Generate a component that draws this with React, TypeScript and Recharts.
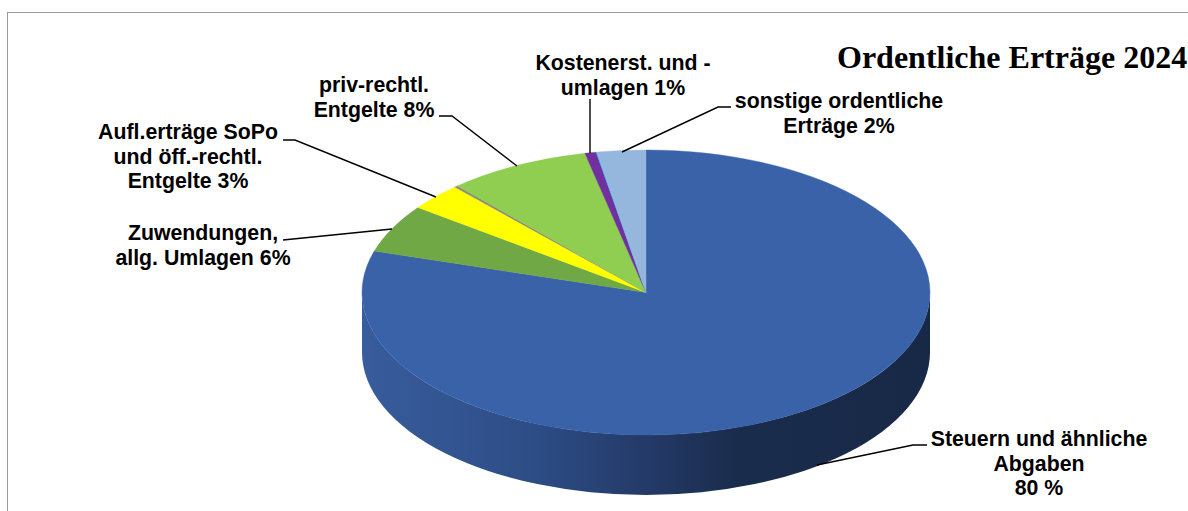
import React from 'react';
import { PieChart, Pie, Cell } from 'recharts';

const categories = [
  'Steuern und ähnliche Abgaben',
  'Zuwendungen, allg. Umlagen',
  'Aufl.erträge SoPo und öff.-rechtl. Entgelte',
  'Sonstige Transfererträge',
  'priv-rechtl. Entgelte',
  'Kostenerst. und -umlagen',
  'Finanzerträge',
  'sonstige ordentliche Erträge',
];
const shares = [79.7, 5.47, 3.08, 0.2, 8.1, 0.64, 0.06, 2.75];
const colors = ['#3A62A8', '#70A845', '#FFFF00', '#8C8C7A', '#8FCE50', '#7030A0', '#4FB8E8', '#95B7DE'];
const labelLines: string[][] = [
  ['Steuern und ähnliche', 'Abgaben', '80 %'],
  ['Zuwendungen,', 'allg. Umlagen 6%'],
  ['Aufl.erträge SoPo', 'und öff.-rechtl.', 'Entgelte 3%'],
  [],
  ['priv-rechtl.', 'Entgelte 8%'],
  ['Kostenerst. und -', 'umlagen 1%'],
  [],
  ['sonstige ordentliche', 'Erträge 2%'],
];

const data = categories.map((name, i) => ({ name, value: shares[i] }));

const CX = 646;
const CY = 292.5;
const RX = 284;
const TILT = 0.5018;
const DEPTH = 60;

// label block centre, first baseline and leader line for each slice
const labelLayout: { x: number; y: number; leader: string }[] = [
  { x: 1039, y: 446, leader: '817,465 913,445 927,445' },
  { x: 203, y: 240, leader: '392,229 293,239 283,240' },
  { x: 188, y: 139, leader: '436,197 295,140 283,140' },
  { x: 0, y: 0, leader: '' },
  { x: 374, y: 92, leader: '517,166 452,116 439,116' },
  { x: 623, y: 70, leader: '590,153 590,99' },
  { x: 0, y: 0, leader: '' },
  { x: 839, y: 108, leader: '622,152 718,107 731,107' },
];

const rad = (deg: number) => (deg * Math.PI) / 180;
const px = (deg: number, r: number) => CX + r * Math.cos(rad(deg));
const py = (deg: number, r: number) => CY - r * TILT * Math.sin(rad(deg));

// recharts gives the angles, they get projected onto the tilted disc here
const TiltedSlice = (props: any) => {
  const { startAngle, endAngle, outerRadius: r, fill } = props;
  const large = Math.abs(startAngle - endAngle) > 180 ? 1 : 0;
  const ry = r * TILT;
  const top = `M${CX},${CY} L${px(startAngle, r)},${py(startAngle, r)} A${r},${ry} 0 ${large} 1 ${px(endAngle, r)},${py(endAngle, r)} Z`;

  // front wall only where the slice covers the lower half
  const wallFrom = Math.min(startAngle, 0);
  const wallTo = Math.max(endAngle, -180);
  const wall =
    wallFrom > wallTo
      ? `M${px(wallFrom, r)},${py(wallFrom, r)} A${r},${ry} 0 0 1 ${px(wallTo, r)},${py(wallTo, r)} L${px(wallTo, r)},${py(wallTo, r) + DEPTH} A${r},${ry} 0 0 0 ${px(wallFrom, r)},${py(wallFrom, r) + DEPTH} Z`
      : null;

  return (
    <g>
      {wall && (
        <>
          <defs>
            <linearGradient id="wallShade" gradientUnits="userSpaceOnUse" x1={CX - r} x2={CX + r} y1="0" y2="0">
              <stop offset="0" stopColor="#385C9C" />
              <stop offset="0.3" stopColor="#2D4D86" />
              <stop offset="0.5" stopColor="#243A68" />
              <stop offset="0.66" stopColor="#1A2C4C" />
              <stop offset="1" stopColor="#182947" />
            </linearGradient>
          </defs>
          <path d={wall} fill="url(#wallShade)" />
        </>
      )}
      <path d={top} fill={fill} stroke={fill} strokeWidth={0.4} />
    </g>
  );
};

const SliceLabel = (props: any) => {
  const { index } = props;
  const lines = labelLines[index];
  if (!lines.length) return null;
  const pos = labelLayout[index];
  return (
    <g>
      <polyline points={pos.leader} fill="none" stroke="#000" strokeWidth={1.4} />
      <text
        x={pos.x}
        y={pos.y}
        textAnchor="middle"
        fontFamily="Liberation Sans"
        fontWeight="bold"
        fontSize={21.3}
        fill="#000"
      >
        {lines.map((line, i) => (
          <tspan key={i} x={pos.x} y={pos.y + i * 24.7}>
            {line}
          </tspan>
        ))}
      </text>
    </g>
  );
};

export default function App() {
  return (
    <div style={{ position: 'absolute', left: 0, top: 0, width: 1188, height: 511, overflow: 'hidden', background: '#fff' }}>
      <div
        style={{
          position: 'absolute',
          left: 7,
          top: 12,
          width: 1200,
          height: 520,
          borderLeft: '1px solid #999',
          borderTop: '1px solid #999',
        }}
      />
      <div style={{ position: 'absolute', left: 0, top: 0 }}>
        <PieChart width={1188} height={511} margin={{ top: 0, right: 0, bottom: 0, left: 0 }}>
          <Pie
            data={data}
            dataKey="value"
            nameKey="name"
            cx={CX}
            cy={CY}
            outerRadius={RX}
            startAngle={90}
            endAngle={-270}
            stroke="none"
            isAnimationActive={false}
            shape={TiltedSlice}
            label={SliceLabel}
            labelLine={false}
          >
            {categories.map((name, i) => (
              <Cell key={name} fill={colors[i]} />
            ))}
          </Pie>
          <text x={837} y={68} fontFamily="Liberation Serif" fontWeight="bold" fontSize={32} fill="#000">
            Ordentliche Erträge 2024
          </text>
        </PieChart>
      </div>
    </div>
  );
}
